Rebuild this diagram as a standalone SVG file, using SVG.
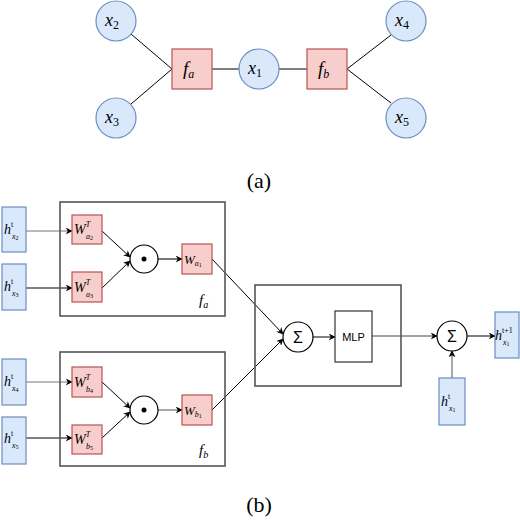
<svg xmlns="http://www.w3.org/2000/svg" width="520" height="526" viewBox="0 0 520 526">
<defs>
<marker id="arr" viewBox="0 0 10 10" refX="9" refY="5" markerWidth="7" markerHeight="7" markerUnits="userSpaceOnUse" orient="auto">
<path d="M0,0 L10,5 L0,10 L3,5 z" fill="#000"/>
</marker>
</defs>
<style>
.var{fill:#dae8fc;stroke:#6c8ebf;stroke-width:1.2}
.fac{fill:#f8cecc;stroke:#b85450;stroke-width:1.2}
.frame{fill:none;stroke:#555;stroke-width:1.6}
.op{fill:#fff;stroke:#000;stroke-width:1.2}
.plain{fill:#fff;stroke:#333;stroke-width:1.2}
.m{font-family:"Liberation Serif","DejaVu Serif","Noto Serif",serif;font-style:italic;fill:#000}
.cap{font-family:"Liberation Serif","DejaVu Serif","Noto Serif",serif;font-size:22px;fill:#000}
.sans{font-family:"Liberation Sans","DejaVu Sans",sans-serif;fill:#000}
.edge{stroke:#000;stroke-width:1;fill:none}
.arrow{stroke:#000;stroke-width:1;fill:none;marker-end:url(#arr)}
</style>

<g id="connectors">
<line class="edge" x1="131" y1="34" x2="172" y2="69"/>
<line class="edge" x1="131" y1="104" x2="172" y2="69"/>
<line class="edge" x1="212" y1="69" x2="239" y2="69"/>
<line class="edge" x1="279" y1="69" x2="307" y2="69"/>
<line class="edge" x1="347" y1="69" x2="391" y2="35"/>
<line class="edge" x1="347" y1="69" x2="391" y2="103"/>
<line class="arrow" x1="26" y1="231" x2="72" y2="231" style="stroke:#777"/>
<line class="arrow" x1="26" y1="288" x2="72" y2="288"/>
<line class="arrow" x1="102" y1="231" x2="130" y2="257"/>
<line class="arrow" x1="102" y1="288" x2="130" y2="261"/>
<line class="arrow" x1="158" y1="259" x2="182" y2="259" style="stroke:#777;stroke-width:2"/>
<line class="arrow" x1="26" y1="382" x2="72" y2="382" style="stroke:#777"/>
<line class="arrow" x1="26" y1="438" x2="72" y2="438"/>
<line class="arrow" x1="102" y1="382" x2="130" y2="408"/>
<line class="arrow" x1="102" y1="438" x2="130" y2="412"/>
<line class="arrow" x1="158" y1="410" x2="182" y2="410" style="stroke:#555"/>
<line class="arrow" x1="212" y1="259" x2="283" y2="334"/>
<line class="arrow" x1="212" y1="410" x2="283" y2="339"/>
<line class="arrow" x1="313" y1="337" x2="335" y2="337" style="stroke:#555;stroke-width:1.5"/>
<line class="arrow" x1="372" y1="336" x2="437" y2="336" style="stroke:#444"/>
<line class="arrow" x1="467" y1="336" x2="495" y2="336"/>
<line class="arrow" x1="452" y1="378" x2="452" y2="351" style="stroke:#555"/>
</g>

<g id="x2"><circle class="var" cx="116" cy="21" r="20"/><text class="m" x="105" y="26" font-size="18">x<tspan font-style="normal" font-size="12" dy="3">2</tspan></text></g>
<g id="x3"><circle class="var" cx="116" cy="118" r="20"/><text class="m" x="105" y="123" font-size="18">x<tspan font-style="normal" font-size="12" dy="3">3</tspan></text></g>
<g id="fa"><rect class="fac" x="172" y="49" width="40" height="40"/><text class="m" x="183" y="75" font-size="19">f<tspan font-size="12" dy="3">a</tspan></text></g>
<g id="x1"><circle class="var" cx="259" cy="69" r="20"/><text class="m" x="248" y="74" font-size="18">x<tspan font-style="normal" font-size="12" dy="3">1</tspan></text></g>
<g id="fb"><rect class="fac" x="307" y="49" width="40" height="40"/><text class="m" x="318" y="75" font-size="19">f<tspan font-size="12" dy="3">b</tspan></text></g>
<g id="x4"><circle class="var" cx="406" cy="21" r="20"/><text class="m" x="395" y="26" font-size="18">x<tspan font-style="normal" font-size="12" dy="3">4</tspan></text></g>
<g id="x5"><circle class="var" cx="406" cy="118" r="20"/><text class="m" x="395" y="123" font-size="18">x<tspan font-style="normal" font-size="12" dy="3">5</tspan></text></g>
<text class="cap" x="259" y="188" text-anchor="middle">(a)</text>

<g id="frame-fa"><rect class="frame" x="60" y="202" width="165" height="114"/><text class="m" x="199" y="305" font-size="15">f<tspan font-size="10" dy="3">a</tspan></text></g>
<g id="frame-fb"><rect class="frame" x="60" y="352" width="165" height="114"/><text class="m" x="199" y="455" font-size="15">f<tspan font-size="10" dy="3">b</tspan></text></g>
<g id="frame-agg"><rect class="frame" x="255" y="285" width="146" height="101"/></g>

<g id="hx2"><rect class="var" x="2" y="207" width="24" height="45"/><text class="m" x="4" y="234" font-size="14">h<tspan font-style="normal" font-size="8" dy="-7">t</tspan></text><text class="m" x="12" y="239" font-size="8">x<tspan font-style="normal" font-size="6" dy="1">2</tspan></text></g>
<g id="hx3"><rect class="var" x="2" y="264" width="24" height="46"/><text class="m" x="4" y="291" font-size="14">h<tspan font-style="normal" font-size="8" dy="-7">t</tspan></text><text class="m" x="12" y="296" font-size="8">x<tspan font-style="normal" font-size="6" dy="1">3</tspan></text></g>
<g id="hx4"><rect class="var" x="2" y="359" width="24" height="46"/><text class="m" x="4" y="386" font-size="14">h<tspan font-style="normal" font-size="8" dy="-7">t</tspan></text><text class="m" x="12" y="391" font-size="8">x<tspan font-style="normal" font-size="6" dy="1">4</tspan></text></g>
<g id="hx5"><rect class="var" x="2" y="417" width="24" height="47"/><text class="m" x="4" y="443" font-size="14">h<tspan font-style="normal" font-size="8" dy="-7">t</tspan></text><text class="m" x="12" y="448" font-size="8">x<tspan font-style="normal" font-size="6" dy="1">5</tspan></text></g>

<g id="Wa2"><rect class="fac" x="72" y="215" width="30" height="29"/><text class="m" x="74" y="234" font-size="14">W<tspan font-size="8" dy="-7">T</tspan></text><text class="m" x="86" y="239" font-size="8">a<tspan font-style="normal" font-size="6" dy="1">2</tspan></text></g>
<g id="Wa3"><rect class="fac" x="72" y="272" width="30" height="30"/><text class="m" x="74" y="292" font-size="14">W<tspan font-size="8" dy="-7">T</tspan></text><text class="m" x="86" y="297" font-size="8">a<tspan font-style="normal" font-size="6" dy="1">3</tspan></text></g>
<g id="Wb4"><rect class="fac" x="72" y="367" width="30" height="30"/><text class="m" x="74" y="387" font-size="14">W<tspan font-size="8" dy="-7">T</tspan></text><text class="m" x="86" y="392" font-size="8">b<tspan font-style="normal" font-size="6" dy="1">4</tspan></text></g>
<g id="Wb5"><rect class="fac" x="72" y="425" width="30" height="29"/><text class="m" x="74" y="444" font-size="14">W<tspan font-size="8" dy="-7">T</tspan></text><text class="m" x="86" y="449" font-size="8">b<tspan font-style="normal" font-size="6" dy="1">5</tspan></text></g>
<g id="Wa1"><rect class="fac" x="182" y="244" width="30" height="30"/><text class="m" x="184" y="264" font-size="13">W<tspan font-size="8" dy="2">a</tspan><tspan font-style="normal" font-size="6" dy="1">1</tspan></text></g>
<g id="Wb1"><rect class="fac" x="182" y="395" width="30" height="30"/><text class="m" x="184" y="415" font-size="13">W<tspan font-size="8" dy="2">b</tspan><tspan font-style="normal" font-size="6" dy="1">1</tspan></text></g>

<g id="odot-a"><circle class="op" cx="144" cy="259" r="14"/><circle cx="144" cy="259" r="2.5" fill="#000"/></g>
<g id="odot-b"><circle class="op" cx="144" cy="410" r="14"/><circle cx="144" cy="410" r="2.5" fill="#000"/></g>

<g id="sum1"><circle class="op" cx="298" cy="337" r="15"/><text class="sans" x="298" y="343" font-size="16" text-anchor="middle">Σ</text></g>
<g id="mlp"><rect class="plain" x="335" y="311" width="37" height="51"/><text class="sans" x="353.5" y="341" font-size="11" text-anchor="middle">MLP</text></g>
<g id="sum2"><circle class="op" cx="452" cy="336" r="15"/><text class="sans" x="452" y="342" font-size="16" text-anchor="middle">Σ</text></g>
<g id="hx1next"><rect class="var" x="495" y="312" width="24" height="46"/><text class="m" x="495" y="340" font-size="14">h<tspan font-style="normal" font-size="8" dy="-7">t+1</tspan></text><text class="m" x="503" y="345" font-size="8">x<tspan font-style="normal" font-size="6" dy="1">1</tspan></text></g>
<g id="hx1"><rect class="var" x="439" y="378" width="26" height="47"/><text class="m" x="441" y="406" font-size="14">h<tspan font-style="normal" font-size="8" dy="-7">t</tspan></text><text class="m" x="449" y="411" font-size="8">x<tspan font-style="normal" font-size="6" dy="1">1</tspan></text></g>

<text class="cap" x="259" y="512" text-anchor="middle">(b)</text>
</svg>
